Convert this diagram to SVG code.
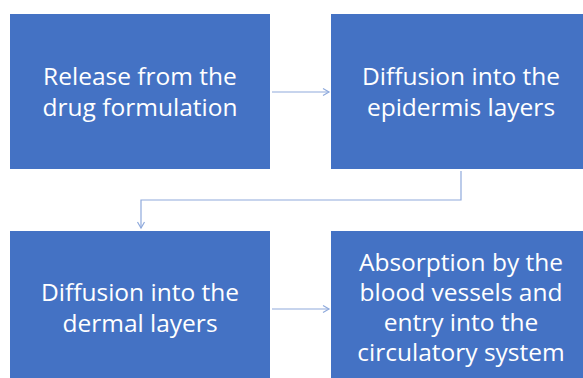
<svg xmlns="http://www.w3.org/2000/svg" width="583" height="378" viewBox="0 0 583 378">
<style>
.box{fill:#4472C4;}
.t{font-family:"Open Sans","Liberation Sans",sans-serif;font-size:24.5px;fill:#FFFFFF;text-anchor:middle;}
.c{fill:none;stroke:#8FAADC;stroke-width:1.2;}
</style>
<defs>
<marker id="ah" markerWidth="10" markerHeight="10" refX="8" refY="5" orient="auto" markerUnits="userSpaceOnUse">
<path d="M2,1.5 L8,5 L2,8.5" fill="none" stroke="#8FAADC" stroke-width="1.2"/>
</marker>
</defs>
<rect width="583" height="378" fill="#FFFFFF"/>
<g id="n1">
<rect class="box" x="10" y="14" width="260" height="155"/>
<text class="t" x="140" y="85">Release from the</text>
<text class="t" x="140" y="116">drug formulation</text>
</g>
<g id="n2">
<rect class="box" x="331" y="14" width="260" height="155"/>
<text class="t" x="461" y="85">Diffusion into the</text>
<text class="t" x="461" y="116">epidermis layers</text>
</g>
<g id="n3">
<rect class="box" x="10" y="231" width="260" height="155"/>
<text class="t" x="140" y="301">Diffusion into the</text>
<text class="t" x="140" y="332">dermal layers</text>
</g>
<g id="n4">
<rect class="box" x="331" y="231" width="260" height="155"/>
<text class="t" x="461" y="271">Absorption by the</text>
<text class="t" x="461" y="301">blood vessels and</text>
<text class="t" x="461" y="331">entry into the</text>
<text class="t" x="461" y="361">circulatory system</text>
</g>
<g id="connectors">
<path class="c" d="M272,92 L329,92" marker-end="url(#ah)"/>
<path class="c" d="M461,171 L461,200 L141,200 L141,228" marker-end="url(#ah)"/>
<path class="c" d="M272,309 L329,309" marker-end="url(#ah)"/>
</g>
</svg>
